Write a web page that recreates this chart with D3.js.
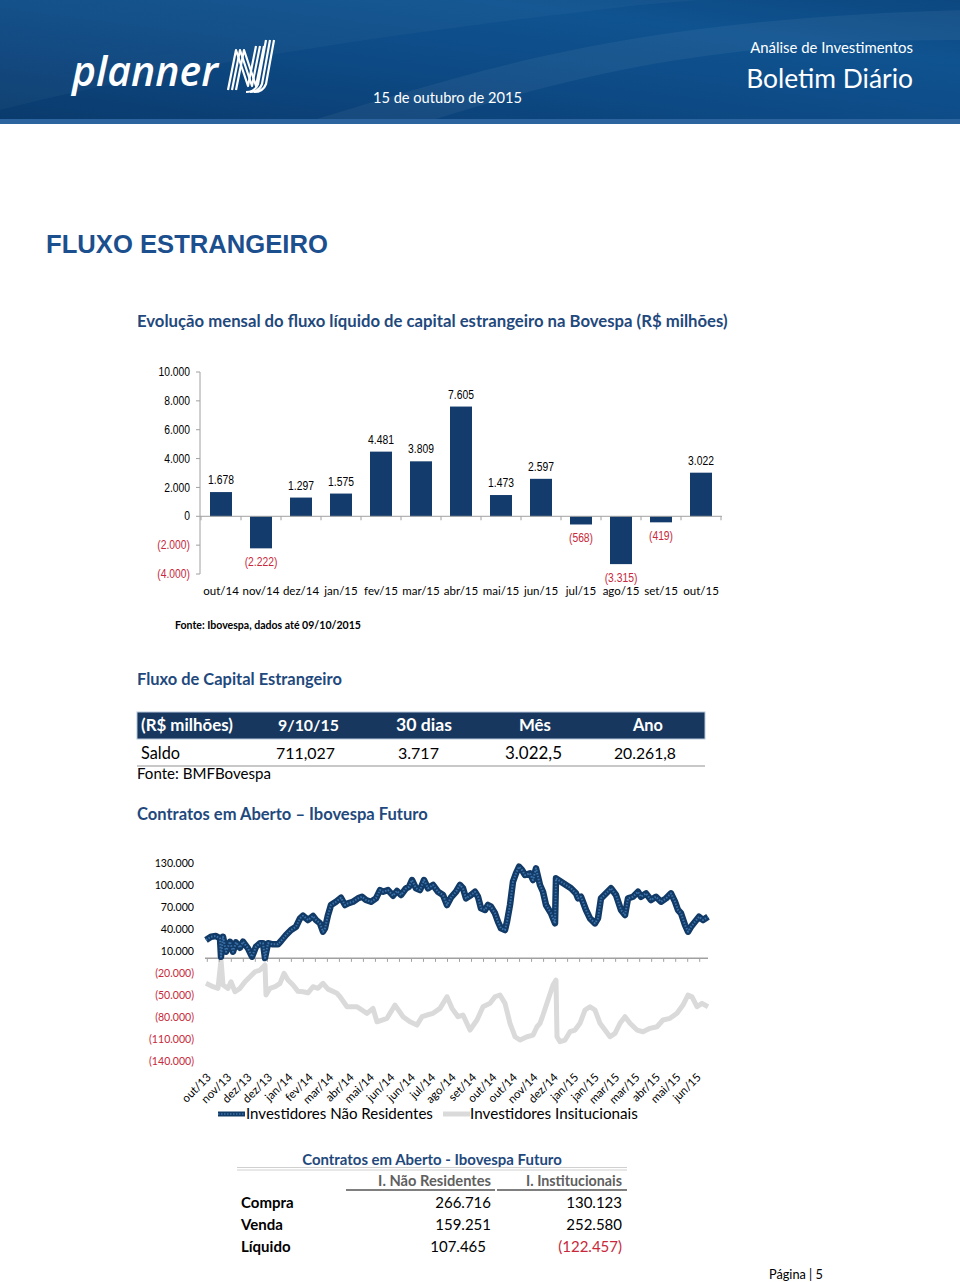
<!DOCTYPE html>
<html><head><meta charset="utf-8">
<script src="https://cdn.jsdelivr.net/npm/d3@7"></script>
<style>body{margin:0;background:#fff}svg{display:block}</style>
</head><body>
<svg id="page" width="960" height="1282"></svg>
<script>
// ---------------- DATA ----------------
const months = ["out/14","nov/14","dez/14","jan/15","fev/15","mar/15","abr/15","mai/15","jun/15","jul/15","ago/15","set/15","out/15"];
const flows  = [1678,-2222,1297,1575,4481,3809,7605,1473,2597,-568,-3315,-419,3022];
const barTicks = [10000,8000,6000,4000,2000,0,-2000,-4000];

const tableHeader = ["(R$ milhões)","9/10/15","30 dias","Mês","Ano"];
const tableRow    = ["Saldo","711,027","3.717","3.022,5","20.261,8"];

const lineTicks  = [130000,100000,70000,40000,10000,-20000,-50000,-80000,-110000,-140000];
const lineLabels = ["out/13","nov/13","dez/13","dez/13","jan/14","fev/14","mar/14","abr/14","mai/14","jun/14","jun/14","jul/14","ago/14","set/14","out/14","out/14","nov/14","dez/14","jan/15","jan/15","mar/15","mar/15","abr/15","mai/15","jun/15"];
// trading-day index and open interest (contracts)
const nrDay = [1,6,11,15,16,18,21,25,28,31,35,38,43,47,51,55,58,60,63,68,73,76,81,86,91,95,98,103,108,111,115,118,120,123,126,131,136,140,143,148,153,157,161,166,171,175,178,183,188,192,196,201,204,207,211,215,219,223,228,233,238,242,246,251,255,258,261,266,270,273,276,280,283,286,290,293,296,300,302,305,308,311,314,317,320,325,328,331,335,338,341,346,350,351,356,361,366,371,373,376,381,385,390,393,396,401,406,411,416,420,423,428,433,436,441,446,451,456,461,466,470,473,476,480,483,486,490,494,498,503];
const nrVal = [25000,29500,30400,27300,2200,29500,9000,22600,9000,21800,14500,22600,13600,2200,15800,20500,20500,500,20500,19100,19100,23600,31800,38600,43100,54500,58100,52200,57700,52200,47700,36300,40900,59000,72700,77200,82600,72700,75000,77200,81800,84000,79500,77200,81800,93100,90800,93100,85400,91800,86300,95500,97600,106800,95500,93100,106800,95500,100000,90800,86300,72700,83000,90800,100000,95500,81800,86300,90800,84000,68200,65900,72700,70400,61400,49900,40900,38600,49900,72700,104500,115900,124900,120400,113600,115900,106800,122700,100000,90800,72700,61400,47700,109100,104500,100000,95500,88600,81800,84000,65900,54500,47700,54500,81800,88600,95500,86300,65900,59000,81800,84000,90800,84000,88600,79500,84000,77200,81800,88600,77200,65900,61400,45400,36300,43100,49900,56700,52200,56700];
const instDay = [1,8,13,16,18,23,26,30,35,40,45,50,55,60,61,65,70,75,79,83,88,93,98,103,108,113,118,123,132,135,142,152,162,168,172,182,190,198,205,212,217,222,228,235,242,247,253,258,265,272,278,285,290,295,300,305,310,315,322,328,332,335,338,343,348,351,352,355,360,365,370,375,380,385,390,395,400,405,410,415,420,425,432,438,445,452,458,465,472,478,483,487,492,497,503];
const instVal = [-34100,-38700,-40900,-2300,-36400,-40900,-31900,-45500,-40900,-31900,-25100,-18300,-16000,-9100,-50000,-40900,-38700,-34100,-20500,-29600,-36400,-45000,-45500,-47000,-38700,-40900,-34100,-42000,-47700,-52400,-66000,-66000,-75000,-68200,-86500,-81800,-63700,-79600,-86500,-91000,-79600,-77300,-75000,-68200,-52400,-68200,-79600,-77300,-97800,-84100,-66000,-61400,-52400,-50000,-61400,-88600,-106900,-111400,-106900,-104600,-93300,-88600,-77300,-56900,-36400,-29600,-106900,-113700,-111400,-100100,-97800,-88600,-70500,-66000,-70500,-88600,-97800,-106900,-102300,-88600,-79600,-88600,-97800,-100100,-95500,-93300,-84100,-81800,-75000,-63700,-50000,-52400,-66000,-61400,-66000];
const seriesNames = ["Investidores Não Residentes","Investidores Insitucionais"];

const oiTitle = "Contratos em Aberto - Ibovespa Futuro";
const oiCols  = ["I. Não Residentes","I. Institucionais"];
const oiRows  = ["Compra","Venda","Líquido"];
const oiNR    = [266716,159251,107465];
const oiInst  = [130123,252580,-122457];

// ---------------- HELPERS ----------------
const svg = d3.select("#page");
const loc = d3.formatLocale({decimal:",", thousands:".", grouping:[3], currency:["R$",""]});
const f0 = loc.format(",d");
const fmt = v => v < 0 ? "(" + f0(-v) + ")" : f0(v);
const BLUE = "#1f497d", NAVY = "#133b6b", RED = "#c8283a";
const CAL = "Lato, 'Open Sans', sans-serif";
const ARIAL = "'Liberation Sans', Arial, sans-serif";
function fit(sel, w){
  const l = sel.node().getComputedTextLength();
  if (l > 0) sel.attr("font-size", parseFloat(sel.attr("font-size")) * w / l);
  return sel;
}
function condense(sel, k){
  sel.each(function(){
    const l = this.getComputedTextLength();
    if (l > 0) d3.select(this).attr("textLength", l * k).attr("lengthAdjust", "spacingAndGlyphs");
  });
  return sel;
}
function txt(x, y, s, o){
  o = o || {};
  const t = svg.append("text").attr("x", x).attr("y", y).text(s)
    .attr("font-family", o.font || CAL).attr("font-size", o.size || 14)
    .attr("font-weight", o.weight || "normal").attr("fill", o.fill || "#000")
    .attr("text-anchor", o.anchor || "start");
  if (o.style) t.attr("font-style", o.style);
  if (o.w) fit(t, o.w);
  return t;
}

// ---------------- HEADER ----------------
const defs = svg.append("defs");
const g1 = defs.append("linearGradient").attr("id","hdr").attr("x1","0").attr("y1","1").attr("x2","1").attr("y2","0");
g1.append("stop").attr("offset","0").attr("stop-color","#0a3a6c");
g1.append("stop").attr("offset","0.45").attr("stop-color","#0d4a85");
g1.append("stop").attr("offset","0.75").attr("stop-color","#0f5390");
g1.append("stop").attr("offset","1").attr("stop-color","#0c4780");
svg.append("rect").attr("x",0).attr("y",0).attr("width",960).attr("height",124).attr("fill","url(#hdr)");
svg.append("path").attr("d","M300,124 C480,70 620,20 960,10 L960,40 C700,40 560,80 420,124 Z").attr("fill","#ffffff").attr("opacity",0.05);
svg.append("path").attr("d","M0,110 C200,60 420,30 640,5 L700,0 L0,0 Z").attr("fill","#ffffff").attr("opacity",0.03);
svg.append("rect").attr("x",0).attr("y",119).attr("width",960).attr("height",5).attr("fill","#2b649e");
txt(72, 86, "planner", {size:40, weight:"600", style:"italic", fill:"#fff", font:"'Open Sans', sans-serif", w:146});
// NJ mark
const mark = svg.append("g").attr("fill","none").attr("stroke","#fff").attr("stroke-width",2.2).attr("stroke-linejoin","round");
[0,4,8].forEach(d => {
  mark.append("path").attr("d", `M${228+d},90 L${236+d},50 L${248+d},86 L${256+d},46`);
});
[0,4,8].forEach(d => {
  mark.append("path").attr("d", `M${266+d},40 L${258+d},84 Q${255+d},92 ${246+d},92`);
});
txt(913, 53, "Análise de Investimentos", {size:15, fill:"#fff", anchor:"end", w:163});
txt(913, 88, "Boletim Diário", {size:26, fill:"#fff", anchor:"end", w:167});
txt(373, 103, "15 de outubro de 2015", {size:15, fill:"#fff", w:149});

// ---------------- TITLES ----------------
txt(46, 253, "FLUXO ESTRANGEIRO", {size:24, font:ARIAL, weight:"bold", fill:"#1c4f8e", w:282});
txt(137, 327, "Evolução mensal do fluxo líquido de capital estrangeiro na Bovespa (R$ milhões)", {size:16, weight:"bold", fill:BLUE, w:591});

// ---------------- BAR CHART ----------------
const bx = d3.scaleBand().domain(months).range([201, 721]).paddingInner(0.45).paddingOuter(0.225);
const by = d3.scaleLinear().domain([-4000, 10000]).range([574, 372]);
const bar = svg.append("g");
// y axis
bar.append("line").attr("x1",200).attr("x2",200).attr("y1",by(10000)).attr("y2",by(-4000)).attr("stroke","#a0a0a0");
bar.selectAll(".yt").data(barTicks).join("line").attr("x1",196).attr("x2",200)
  .attr("y1",d=>by(d)).attr("y2",d=>by(d)).attr("stroke","#a0a0a0");
condense(bar.selectAll(".yl").data(barTicks).join("text").attr("x",190).attr("y",d=>by(d)).attr("dy","0.35em")
  .attr("text-anchor","end").attr("font-family",ARIAL).attr("font-size",12)
  .attr("fill",d=>d<0?RED:"#000").text(fmt), 0.86);
// bars
bar.selectAll(".b").data(flows).join("rect")
  .attr("x",(d,i)=>bx(months[i])).attr("width",bx.bandwidth())
  .attr("y",d=>by(Math.max(0,d))).attr("height",d=>Math.abs(by(d)-by(0)))
  .attr("fill",NAVY);
// zero axis
bar.append("line").attr("x1",200).attr("x2",722).attr("y1",by(0)).attr("y2",by(0)).attr("stroke","#a0a0a0");
const step = bx.step();
bar.selectAll(".xt").data(d3.range(months.length+1)).join("line")
  .attr("x1",i=>201+i*step).attr("x2",i=>201+i*step).attr("y1",by(0)).attr("y2",by(0)+4).attr("stroke","#a0a0a0");
// value labels
condense(bar.selectAll(".vl").data(flows).join("text")
  .attr("x",(d,i)=>bx(months[i])+bx.bandwidth()/2)
  .attr("y",d=>d>=0?by(d)-8:by(d)+18)
  .attr("text-anchor","middle").attr("font-family",ARIAL).attr("font-size",12)
  .attr("fill",d=>d<0?RED:"#000").text(fmt), 0.86);
// category labels
bar.selectAll(".cl").data(months).join("text")
  .attr("x",d=>bx(d)+bx.bandwidth()/2).attr("y",595)
  .attr("text-anchor","middle").attr("font-family",CAL).attr("font-size",11.5).text(d=>d);
txt(175, 629, "Fonte: Ibovespa, dados até 09/10/2015", {size:11, weight:"bold", w:186});

// ---------------- TABLE ----------------
txt(137, 685, "Fluxo de Capital Estrangeiro", {size:16, weight:"bold", fill:BLUE, w:205});
svg.append("rect").attr("x",137).attr("y",712).attr("width",568).attr("height",27).attr("fill","#17375e")
  .attr("stroke","#b8c7da").attr("stroke-width",1);
const colX = [141, 278, 396, 519, 633];
const colW = [92, 61, 56, 32, 30];
tableHeader.forEach((h,i)=>txt(colX[i], 731, h, {size:16, weight:"bold", fill:"#fff", w:colW[i]}));
const rowX = [141, 276, 398, 505, 614];
const rowW = [39, 59, 41, 57, 62];
tableRow.forEach((h,i)=>txt(rowX[i], 759, h, {size:16, w:rowW[i]}));
svg.append("line").attr("x1",137).attr("x2",705).attr("y1",766).attr("y2",766).attr("stroke","#c8c8c8").attr("stroke-width",2);
txt(137, 779, "Fonte: BMFBovespa", {size:14, w:134});

txt(137, 820, "Contratos em Aberto – Ibovespa Futuro", {size:16, weight:"bold", fill:BLUE, w:291});

// ---------------- LINE CHART ----------------
const lx = d3.scaleLinear().domain([0, 503]).range([205, 708]);
const ly = d3.scaleLinear().domain([-140000, 130000]).range([1061, 863]);
const lc = svg.append("g");
condense(lc.selectAll(".lyl").data(lineTicks).join("text").attr("x",194).attr("y",d=>ly(d)).attr("dy","0.35em")
  .attr("text-anchor","end").attr("font-family",CAL).attr("font-size",11.5)
  .attr("fill",d=>d<0?RED:"#000").text(fmt), 0.92);
const line = d3.line().x(d=>lx(d[0])).y(d=>ly(d[1]));
const inst = instDay.map((d,i)=>[d, instVal[i]]);
const nr = nrDay.map((d,i)=>[d, nrVal[i]]);
lc.append("path").attr("d",line(inst)).attr("fill","none").attr("stroke","#dadada").attr("stroke-width",5).attr("stroke-linejoin","round");
lc.append("line").attr("x1",lx(0)).attr("x2",lx(503)).attr("y1",ly(0)).attr("y2",ly(0)).attr("stroke","#a0a0a0").attr("stroke-width",1.5);
lc.selectAll(".lxt").data(d3.range(0, 42)).join("line")
  .attr("x1",k=>lx(2.3+k*12.01)).attr("x2",k=>lx(2.3+k*12.01)).attr("y1",ly(0)).attr("y2",ly(0)+3.5).attr("stroke","#a0a0a0");
lc.append("path").attr("d",line(nr)).attr("fill","none").attr("stroke","#123a66").attr("stroke-width",6.5).attr("stroke-linejoin","round");
lc.append("path").attr("d",line(nr)).attr("fill","none").attr("stroke","#3b72aa").attr("stroke-width",2).attr("stroke-dasharray","1.5,1.5").attr("stroke-linejoin","round");
lc.selectAll(".lxl").data(lineLabels).join("text")
  .attr("transform",(d,i)=>`translate(${lx(1.7+i*20.42)+5},1078) rotate(-45)`)
  .attr("text-anchor","end").attr("font-family",CAL).attr("font-size",11.5).text(d=>d);
// legend
lc.append("line").attr("x1",218).attr("x2",245).attr("y1",1114).attr("y2",1114).attr("stroke","#123a66").attr("stroke-width",5);
lc.append("line").attr("x1",218).attr("x2",245).attr("y1",1114).attr("y2",1114).attr("stroke","#3b72aa").attr("stroke-width",1.5).attr("stroke-dasharray","1.5,1.5");
txt(246, 1119, seriesNames[0], {size:15, w:187});
lc.append("line").attr("x1",443).attr("x2",470).attr("y1",1114).attr("y2",1114).attr("stroke","#dadada").attr("stroke-width",5);
txt(470, 1119, seriesNames[1], {size:15, w:168});

// ---------------- OPEN INTEREST TABLE ----------------
txt(432, 1165, oiTitle, {size:15, weight:"bold", fill:BLUE, anchor:"middle", w:260});
svg.append("line").attr("x1",237).attr("x2",627).attr("y1",1167.5).attr("y2",1167.5).attr("stroke","#d0d0d0");
svg.append("line").attr("x1",237).attr("x2",627).attr("y1",1170).attr("y2",1170).attr("stroke","#d0d0d0");
txt(491, 1186, oiCols[0], {size:14, weight:"bold", fill:"#5f5f5f", anchor:"end", w:113});
txt(622, 1186, oiCols[1], {size:14, weight:"bold", fill:"#5f5f5f", anchor:"end", w:96});
svg.append("line").attr("x1",346).attr("x2",495).attr("y1",1190).attr("y2",1190).attr("stroke","#7f7f7f").attr("stroke-width",2);
svg.append("line").attr("x1",497).attr("x2",627).attr("y1",1190).attr("y2",1190).attr("stroke","#7f7f7f").attr("stroke-width",2);
const rowYs = [1208, 1230, 1252];
oiRows.forEach((r,i)=>{
  txt(241, rowYs[i], r, {size:15, weight:"bold"});
  txt(i===2?486:491, rowYs[i], fmt(oiNR[i]), {size:15, anchor:"end", fill:oiNR[i]<0?RED:"#000"});
  txt(622, rowYs[i], fmt(oiInst[i]), {size:15, anchor:"end", fill:oiInst[i]<0?RED:"#000"});
});

txt(769, 1279, "Página | 5", {size:12, w:54});
</script>
</body></html>
